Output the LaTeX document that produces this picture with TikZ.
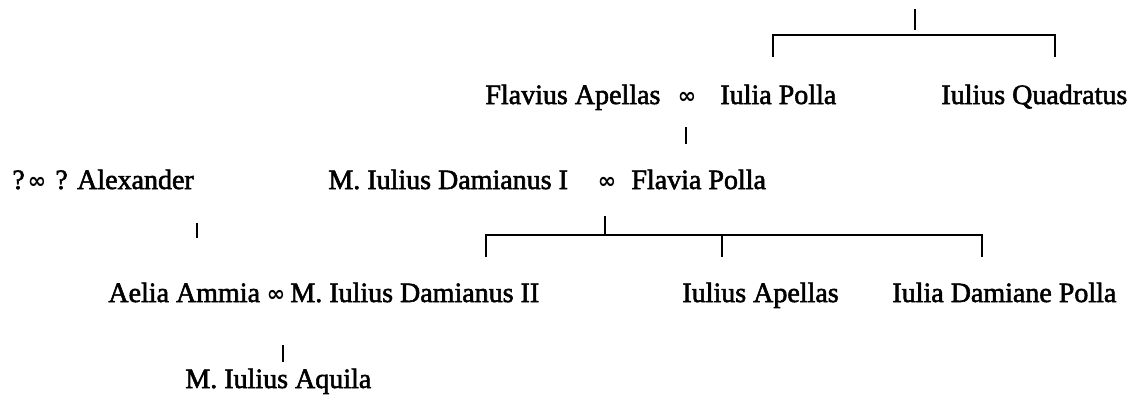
\documentclass[tikz,border=0pt]{standalone}
\usepackage{fontspec}
\setmainfont{Liberation Serif}
\newfontfamily\scanfont{Liberation Serif}[FakeBold=2]
\newfontfamily\infont{DejaVu Sans Bold}
\begin{document}
\begin{tikzpicture}[x=0.5pt,y=-0.5pt,
  person/.style={anchor=base west, inner sep=0pt, font=\scanfont\fontsize{14}{16}\selectfont},
  marr/.style={anchor=base, inner sep=0pt, font=\infont\fontsize{11}{13}\selectfont},
  kin/.style={line width=1.2pt}]
\useasboundingbox (0,0) rectangle (1127,396);
% row 1
\node[person] (flavius) at (485,104) {Flavius Apellas};
\node[marr] (m1) at (687,103) {∞};
\node[person] (iuliapolla) at (720,104) {Iulia Polla};
\node[person] (quadratus) at (941,104) {Iulius Quadratus};
% row 2
\node[person] (q1) at (12,189) {?};
\node[marr] (m0) at (37,188) {∞};
\node[person] (alexander) at (55,189) {? Alexander};
\node[person] (damI) at (328,189) {M. Iulius Damianus I};
\node[marr] (m2) at (607,188) {∞};
\node[person] (flavia) at (631,189) {Flavia Polla};
% row 3
\node[person] (aelia) at (108,302) {Aelia Ammia};
\node[marr] (m3) at (276,301) {∞};
\node[person] (damII) at (290,302) {M. Iulius Damianus II};
\node[person] (apellas) at (682,302) {Iulius Apellas};
\node[person] (damiane) at (892,302) {Iulia Damiane Polla};
% row 4
\node[person] (aquila) at (185,388) {M. Iulius Aquila};
% connector points
\coordinate (a0) at (915,9); \coordinate (a1) at (915,30);
\coordinate (aL) at (773,35); \coordinate (aR) at (1055,35);
\coordinate (aLd) at (773,57); \coordinate (aRd) at (1055,57);
\coordinate (b0) at (686,127); \coordinate (b1) at (686,144);
\coordinate (c0) at (197,223); \coordinate (c1) at (197,238);
\coordinate (d0) at (605,216); \coordinate (d1) at (605,235);
\coordinate (dL) at (486,235); \coordinate (dM) at (722,235); \coordinate (dR) at (982,235);
\coordinate (dLd) at (486,257); \coordinate (dMd) at (722,257); \coordinate (dRd) at (982,257);
\coordinate (e0) at (283,345); \coordinate (e1) at (283,362);
\draw[kin] (a0) -- (a1);
\draw[kin] (aLd) -- (aL) -- (aR) -- (aRd);
\draw[kin] (b0) -- (b1);
\draw[kin] (c0) -- (c1);
\draw[kin] (d0) -- (d1);
\draw[kin] (dLd) -- (dL) -- (dR) -- (dRd);
\draw[kin] (dM) -- (dMd);
\draw[kin] (e0) -- (e1);
\end{tikzpicture}
\end{document}
